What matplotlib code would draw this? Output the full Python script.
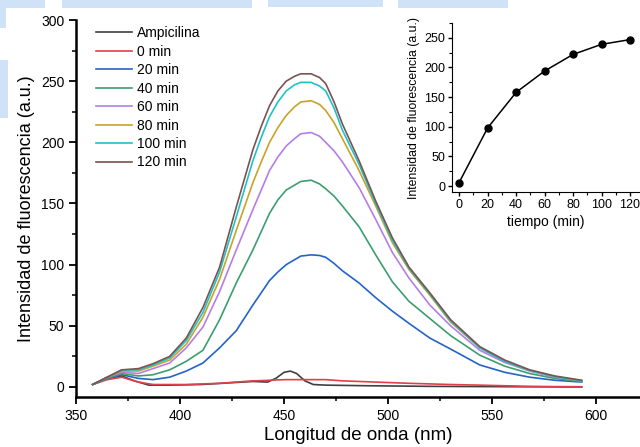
import matplotlib
matplotlib.use("Agg")
import matplotlib.pyplot as plt
from matplotlib.patches import Rectangle
from matplotlib.ticker import MultipleLocator

plt.rcParams['font.family'] = ['Liberation Sans', 'DejaVu Sans']

# ---- data ----
wavelength = [358, 365, 372, 380, 387, 395, 403, 411, 419, 427, 435, 439, 443, 447,
              451, 455, 458, 463, 467, 470, 474, 478, 486, 494, 502, 510, 520, 530,
              544, 556, 568, 580, 593]

min_0 = [2, 6, 8, 4, 2, 2, 2, 2.5, 3, 4, 5, 5.2, 5.5, 5.8,
         6, 6, 6, 6, 6, 6, 5.5, 5, 4.5, 4, 3.5, 3, 2.5, 2,
         1.5, 1, 0.5, 0.3, 0.2]
min_20 = [2, 7, 10, 7, 6, 8, 13, 19.6, 32, 46, 67, 77, 87, 94,
          100, 104, 107, 108, 107.5, 106, 101, 95, 85, 73, 62, 52, 40, 31,
          18, 12, 8, 5.5, 4]
min_40 = [2, 7, 11, 9, 10, 14, 21, 30, 55, 85, 112, 127, 142, 153,
          161, 165, 168, 169, 166, 162, 156, 148, 131, 108, 86, 70, 56, 42,
          26, 17, 11, 7, 4.5]
min_60 = [2, 8, 12, 11, 15, 19.6, 32, 49, 78, 112, 145, 161, 177, 188,
          197, 203, 207, 208, 205, 200, 193, 184, 163, 137, 110, 89, 67, 50,
          30, 20, 13, 8, 5]
min_80 = [2, 8, 13, 13, 17, 22, 35, 57, 88, 128, 167, 184, 200, 212,
          222, 229, 233, 234, 231, 226, 216, 203, 177, 148, 118, 96, 75, 53,
          32, 21, 13.5, 8.5, 5]
min_100 = [2, 8, 14, 14, 18, 23.7, 38, 61, 94, 139, 185, 204, 221, 233,
           242, 247, 249, 249, 246, 242, 228, 210, 182, 150, 120, 97, 76, 54,
           32, 21, 13.5, 8.5, 5]
min_120 = [2, 8, 14, 15, 19, 25, 40, 65, 98, 147, 194, 213, 230, 242,
           250, 254, 256, 256, 253, 248, 233, 215, 185, 152, 122, 98, 77, 55,
           33, 22, 14, 9, 5.5]

wavelength_amp = [358, 365, 372, 378, 385, 395, 410, 425, 435, 442, 446, 450, 453,
                  456, 460, 464, 470, 490, 520, 560, 593]
ampicilina = [2, 7, 9, 5, 1.5, 1.5, 2, 3.5, 4.5, 4, 7, 12, 13,
              11, 5, 2, 1.5, 1, 0.5, 0.2, 0]

tiempo = [0, 20, 40, 60, 80, 100, 120]
intensidad = [6, 98, 158, 194, 222, 239, 247]

series = [
    ('0 min', min_0, '#e0404a'),
    ('20 min', min_20, '#2463c8'),
    ('40 min', min_40, '#3c9e6e'),
    ('60 min', min_60, '#b47ee6'),
    ('80 min', min_80, '#c9a22a'),
    ('100 min', min_100, '#1cc3c8'),
    ('120 min', min_120, '#7c5252'),
]

W, H = 640, 447
fig = plt.figure(figsize=(W / 100, H / 100), dpi=100)

# light blue smudges in the background of the original scan
for x, y, w, h in [(0, 0, 45, 8), (62, 0, 190, 8), (268, 0, 115, 7), (398, 0, 110, 8),
                   (0, 0, 6, 28), (0, 60, 8, 58)]:
    fig.patches.append(Rectangle((x / W, 1 - (y + h) / H), w / W, h / H,
                                 transform=fig.transFigure, color='#cfe2f7',
                                 zorder=0, lw=0))

# ---- main spectra ----
ax = fig.add_axes([76 / W, 1 - 397 / H, 1 - 76 / W, (397 - 20) / H])
ax.plot(wavelength_amp, ampicilina, color='#404040', lw=1.2, label='Ampicilina')
for name, vals, col in series:
    ax.plot(wavelength, vals, color=col, lw=1.2, label=name)

ax.set_xlim(350, 621)
ax.set_ylim(-8.2, 300)
ax.xaxis.set_major_locator(MultipleLocator(50))
ax.xaxis.set_minor_locator(MultipleLocator(25))
ax.yaxis.set_major_locator(MultipleLocator(50))
ax.yaxis.set_minor_locator(MultipleLocator(25))
ax.spines['top'].set_visible(False)
ax.spines['right'].set_visible(False)
ax.spines['left'].set_linewidth(1.8)
ax.spines['bottom'].set_linewidth(1.8)
ax.tick_params(which='major', direction='out', length=5, width=1.3, labelsize=10)
ax.tick_params(which='minor', direction='out', length=3, width=1.1)
ax.set_xlabel('Longitud de onda (nm)', fontsize=13.5, labelpad=3)
ax.set_ylabel('Intensidad de fluorescencia (a.u.)', fontsize=13, labelpad=4)
ax.legend(loc='upper left', bbox_to_anchor=(0.025, 0.998), frameon=False, fontsize=10,
          handlelength=2.65, handletextpad=0.35, labelspacing=0.32, borderaxespad=0)

# ---- inset: intensity vs time ----
axi = fig.add_axes([452 / W, 1 - 192 / H, 1 - 452 / W, (192 - 23) / H])
axi.plot(tiempo, intensidad, color='black', lw=1.1, marker='o', markersize=5)
axi.set_xlim(-5, 127)
axi.set_ylim(-10, 275)
axi.xaxis.set_major_locator(MultipleLocator(20))
axi.xaxis.set_minor_locator(MultipleLocator(10))
axi.yaxis.set_major_locator(MultipleLocator(50))
axi.yaxis.set_minor_locator(MultipleLocator(25))
axi.spines['top'].set_visible(False)
axi.spines['right'].set_visible(False)
axi.tick_params(which='major', direction='out', length=3, width=1, labelsize=9, pad=2)
axi.tick_params(which='minor', direction='out', length=2, width=0.8)
axi.set_xlabel('tiempo (min)', fontsize=10, labelpad=3)
axi.set_ylabel('Intensidad de fluorescencia (a.u.)', fontsize=8.8, labelpad=3)

fig.savefig('out.png', dpi=100)
